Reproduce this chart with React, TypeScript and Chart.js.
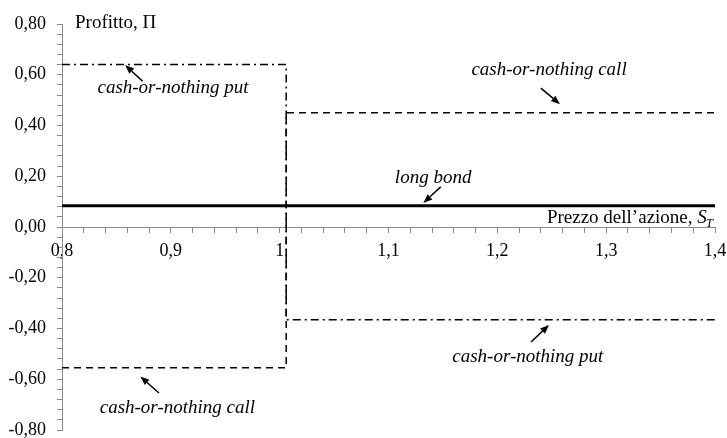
import React, { useEffect, useRef } from 'react';
import { Chart, registerables } from 'chart.js';

Chart.register(...registerables);

// ---- data ----
const xMin = 0.8;
const xMax = 1.4;
const yMin = -0.8;
const yMax = 0.8;

const bondX = [0.8, 1.4];
const bondY = [0.084, 0.084];

const callX = [0.8, 1.006, 1.006, 1.4];
const callY = [-0.555, -0.555, 0.45, 0.45];

const putX = [0.8, 1.006, 1.006, 1.4];
const putY = [0.64, 0.64, -0.366, -0.366];

const xMajorTicks = [0.8, 0.9, 1.0, 1.1, 1.2, 1.3, 1.4];
const xTickLabels = ['0,8', '0,9', '1', '1,1', '1,2', '1,3', '1,4'];
const yMajorTicks = [0.8, 0.6, 0.4, 0.2, 0.0, -0.2, -0.4, -0.6, -0.8];
const yTickLabels = ['0,80', '0,60', '0,40', '0,20', '0,00', '-0,20', '-0,40', '-0,60', '-0,80'];

const yAxisTitle = 'Profitto, Π';
const xAxisTitle = 'Prezzo dell’azione, ';

// annotation labels (text anchor in data coords; arrow from -> to in data coords)
const annText = ['cash-or-nothing put', 'cash-or-nothing call', 'long bond', 'cash-or-nothing put', 'cash-or-nothing call'];
const annX = [0.902, 1.2475, 1.141, 1.228, 0.906];
const annY = [0.528, 0.599, 0.172, -0.531, -0.734];
const arrFromX = [0.874, 1.240, 1.148, 1.231, 0.889];
const arrFromY = [0.575, 0.547, 0.158, -0.453, -0.654];
const arrToX = [0.858, 1.2576, 1.132, 1.2475, 0.872];
const arrToY = [0.638, 0.484, 0.095, -0.386, -0.589];

const FONT = '"Liberation Serif", "Times New Roman", serif';
const AXIS_GRAY = '#8a8a8a';

function toPts(xs: number[], ys: number[]) {
  return xs.map((x, i) => ({ x, y: ys[i] }));
}

function labelFor(v: number, majors: number[], labels: string[]) {
  for (let i = 0; i < majors.length; i++) {
    if (Math.abs(v - majors[i]) < 1e-6) return labels[i];
  }
  return '';
}

const annotationPlugin = {
  id: 'annotations',
  afterDatasetsDraw(chart: any) {
    const { ctx, chartArea } = chart;
    const xs = chart.scales.x;
    const ys = chart.scales.y;
    ctx.save();
    ctx.fillStyle = '#000';
    ctx.strokeStyle = '#000';
    // labels
    ctx.font = `italic 19px ${FONT}`;
    ctx.textAlign = 'center';
    ctx.textBaseline = 'alphabetic';
    for (let i = 0; i < annText.length; i++) {
      ctx.fillText(annText[i], xs.getPixelForValue(annX[i]), ys.getPixelForValue(annY[i]));
      const x0 = xs.getPixelForValue(arrFromX[i]);
      const y0 = ys.getPixelForValue(arrFromY[i]);
      const x1 = xs.getPixelForValue(arrToX[i]);
      const y1 = ys.getPixelForValue(arrToY[i]);
      const ang = Math.atan2(y1 - y0, x1 - x0);
      const hl = 9;
      const hw = 3.5;
      const bx = x1 - hl * Math.cos(ang);
      const by = y1 - hl * Math.sin(ang);
      ctx.lineWidth = 1.5;
      ctx.beginPath();
      ctx.moveTo(x0, y0);
      ctx.lineTo(bx, by);
      ctx.stroke();
      ctx.beginPath();
      ctx.moveTo(x1, y1);
      ctx.lineTo(bx + hw * Math.sin(ang), by - hw * Math.cos(ang));
      ctx.lineTo(bx - hw * Math.sin(ang), by + hw * Math.cos(ang));
      ctx.closePath();
      ctx.fill();
    }
    // y axis title
    ctx.textAlign = 'left';
    ctx.font = `19px ${FONT}`;
    ctx.fillText(yAxisTitle, chartArea.left + 13, chartArea.top + 4);
    // x axis title with italic S_T, right aligned
    const zeroY = ys.getPixelForValue(0);
    const base = zeroY - 4.5;
    ctx.font = `italic 13px ${FONT}`;
    const wT = ctx.measureText('T').width;
    ctx.font = `italic 19px ${FONT}`;
    const wS = ctx.measureText('S').width;
    ctx.font = `19px ${FONT}`;
    const wMain = ctx.measureText(xAxisTitle).width;
    const right = chartArea.right - 1;
    let x = right - wT - wS - wMain;
    ctx.fillText(xAxisTitle, x, base);
    x += wMain;
    ctx.font = `italic 19px ${FONT}`;
    ctx.fillText('S', x, base);
    x += wS;
    ctx.font = `italic 13px ${FONT}`;
    ctx.fillText('T', x - 1, base + 4);
    ctx.restore();
  },
};

export default function App() {
  const ref = useRef<HTMLCanvasElement | null>(null);
  useEffect(() => {
    document.body.style.margin = '0';
    const canvas = ref.current;
    if (!canvas) return;
    const chart = new Chart(canvas, {
      type: 'scatter',
      data: {
        datasets: [
          {
            label: 'long bond',
            data: toPts(bondX, bondY),
            showLine: true,
            borderColor: '#000',
            borderWidth: 3,
            pointRadius: 0,
          },
          {
            label: 'cash-or-nothing call',
            data: toPts(callX, callY),
            showLine: true,
            borderColor: '#000',
            borderWidth: 1.5,
            borderDash: [7, 5],
            pointRadius: 0,
          },
          {
            label: 'cash-or-nothing put',
            data: toPts(putX, putY),
            showLine: true,
            borderColor: '#000',
            borderWidth: 1.5,
            borderDash: [8, 4, 2, 4],
            pointRadius: 0,
          },
        ],
      },
      options: {
        animation: false,
        responsive: true,
        maintainAspectRatio: false,
        layout: { padding: { top: 24, bottom: 8, right: 12, left: 0 } },
        plugins: { legend: { display: false }, tooltip: { enabled: false } },
        scales: {
          x: {
            type: 'linear',
            position: { y: 0 } as any,
            min: xMin,
            max: xMax,
            afterFit: (s: any) => {
              s.height = 0;
              s.paddingLeft = 0;
              s.paddingRight = 0;
            },
            border: { display: true, color: AXIS_GRAY, width: 1 },
            grid: { drawOnChartArea: false, drawTicks: true, tickLength: 5, tickColor: AXIS_GRAY },
            ticks: {
              stepSize: 0.02,
              autoSkip: false,
              maxRotation: 0,
              padding: 8,
              color: '#000',
              font: { family: FONT, size: 18 },
              callback: (v: any) => labelFor(Number(v), xMajorTicks, xTickLabels),
            },
          },
          y: {
            type: 'linear',
            position: 'left',
            min: yMin,
            max: yMax,
            afterFit: (s: any) => {
              s.width = 62;
              s.paddingTop = 0;
              s.paddingBottom = 0;
            },
            border: { display: true, color: AXIS_GRAY, width: 1 },
            grid: { drawOnChartArea: false, drawTicks: true, tickLength: 5, tickColor: AXIS_GRAY },
            ticks: {
              stepSize: 0.04,
              autoSkip: false,
              padding: 11,
              color: '#000',
              font: { family: FONT, size: 18 },
              callback: (v: any) => labelFor(Number(v), yMajorTicks, yTickLabels),
            },
          },
        },
      },
      plugins: [annotationPlugin],
    });
    return () => chart.destroy();
  }, []);
  return (
    <div style={{ position: 'relative', width: 727, height: 438 }}>
      <canvas ref={ref} />
    </div>
  );
}
